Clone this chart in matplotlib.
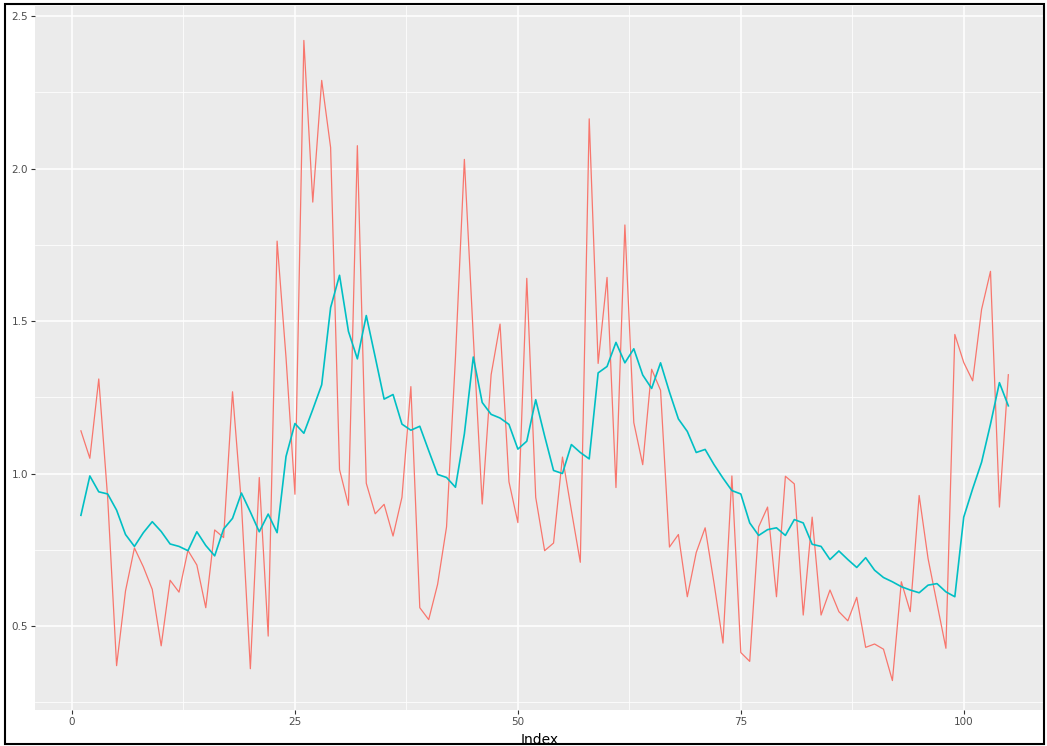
import numpy as np
import matplotlib.pyplot as plt
from matplotlib.patches import Rectangle

# raw series (red) and smoothed series (teal), index 1..105
raw = [1.14, 1.05, 1.31, 0.92, 0.37, 0.615, 0.756, 0.694, 0.62, 0.435,
       0.65, 0.611, 0.748, 0.70, 0.56, 0.815, 0.79, 1.268, 0.90, 0.36,
       0.987, 0.467, 1.762, 1.38, 0.932, 2.42, 1.89, 2.289, 2.069, 1.013,
       0.896, 2.075, 0.968, 0.868, 0.899, 0.795, 0.922, 1.285, 0.56, 0.521,
       0.637, 0.825, 1.38, 2.03, 1.45, 0.90, 1.324, 1.49, 0.973, 0.839,
       1.64, 0.922, 0.747, 0.772, 1.054, 0.879, 0.709, 2.163, 1.361, 1.643,
       0.954, 1.815, 1.167, 1.029, 1.342, 1.273, 0.759, 0.80, 0.596, 0.741,
       0.822, 0.64, 0.444, 0.992, 0.413, 0.384, 0.825, 0.89, 0.596, 0.991,
       0.966, 0.536, 0.857, 0.536, 0.618, 0.547, 0.517, 0.594, 0.43, 0.441,
       0.424, 0.321, 0.645, 0.547, 0.928, 0.721, 0.574, 0.427, 1.456, 1.364,
       1.304, 1.538, 1.663, 0.89, 1.324]

smooth = [0.863, 0.992, 0.94, 0.933, 0.88, 0.80, 0.761, 0.806, 0.842, 0.81,
          0.769, 0.761, 0.747, 0.809, 0.764, 0.73, 0.818, 0.853, 0.936, 0.874,
          0.809, 0.867, 0.806, 1.056, 1.164, 1.132, 1.21, 1.291, 1.544, 1.65,
          1.466, 1.376, 1.518, 1.382, 1.244, 1.259, 1.162, 1.142, 1.155, 1.075,
          0.997, 0.987, 0.955, 1.13, 1.382, 1.233, 1.194, 1.182, 1.161, 1.08,
          1.106, 1.242, 1.123, 1.01, 1.0, 1.095, 1.069, 1.048, 1.33, 1.351,
          1.43, 1.363, 1.409, 1.323, 1.279, 1.363, 1.267, 1.179, 1.138, 1.069,
          1.079, 1.029, 0.985, 0.944, 0.933, 0.838, 0.797, 0.816, 0.822, 0.797,
          0.849, 0.838, 0.768, 0.761, 0.718, 0.746, 0.718, 0.692, 0.724, 0.683,
          0.659, 0.645, 0.629, 0.618, 0.609, 0.634, 0.639, 0.612, 0.596, 0.857,
          0.95, 1.037, 1.162, 1.298, 1.222]

index = np.arange(1, len(raw) + 1)

W, H = 1047, 746
fig = plt.figure(figsize=(W / 100, H / 100), dpi=100)
ax = fig.add_axes([35 / W, 1 - 710 / H, (1044 - 35) / W, (710 - 6) / H])

# ggplot2 grey theme
ax.set_facecolor('#EBEBEB')
for s in ax.spines.values():
    s.set_visible(False)
ax.set_xticks([0, 25, 50, 75, 100])
ax.set_xticks([12.5, 37.5, 62.5, 87.5], minor=True)
ax.set_yticks([0.5, 1.0, 1.5, 2.0, 2.5])
ax.set_yticks([0.25, 0.75, 1.25, 1.75, 2.25], minor=True)
ax.grid(which='major', color='white', linewidth=1.1)
ax.grid(which='minor', color='white', linewidth=0.55)
ax.set_axisbelow(True)
ax.tick_params(which='major', length=3, color='#333333', labelsize=7.5,
               labelcolor='#4D4D4D', pad=2)
ax.tick_params(which='minor', length=0)

ax.plot(index, raw, color='#F8766D', linewidth=0.9)
ax.plot(index, smooth, color='#00BFC4', linewidth=1.2)

ax.set_xlim(-4.15, 109.0)
ax.set_ylim(0.2246, 2.533)
ax.set_xlabel('Index', fontsize=10, labelpad=4)

# black frame around the whole picture
fig.patches.append(Rectangle((5 / W, 2 / H), (1044 - 5) / W, (742 - 2) / H,
                             transform=fig.transFigure, fill=False,
                             edgecolor='black', linewidth=1.5))

fig.savefig('out.png', dpi=100)
